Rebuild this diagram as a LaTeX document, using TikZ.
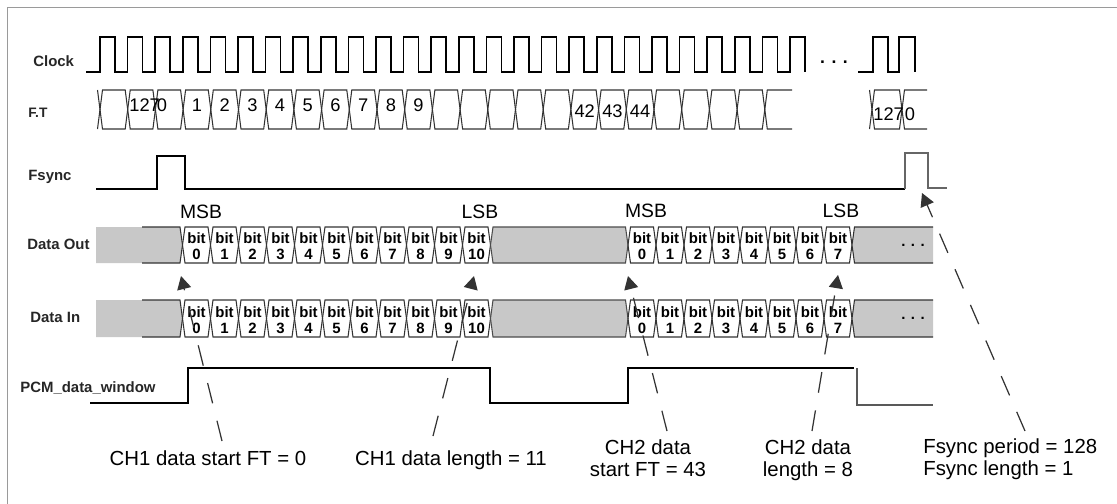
\documentclass[tikz,border=0pt]{standalone}
\usepackage{fontspec}
\setmainfont{Liberation Sans}
\usetikzlibrary{arrows.meta}
\definecolor{busgray}{HTML}{C8C8C8}
\definecolor{framegray}{HTML}{9A9A9A}
\begin{document}
\begin{tikzpicture}[x=0.02cm,y=-0.02cm,
  lbl/.style={font=\fontsize{8.5}{10}\selectfont\bfseries, anchor=base west, inner sep=0pt, text=black!85},
  ftlbl/.style={font=\fontsize{7.8}{9}\selectfont\bfseries, anchor=base west, inner sep=0pt, text=black!85},
  ftnum/.style={font=\fontsize{10.4}{12}\selectfont, inner sep=0pt, anchor=base},
  bittxt/.style={font=\fontsize{8.5}{9.2}\selectfont\bfseries, align=center, inner sep=0pt},
  sb/.style={font=\fontsize{11}{13}\selectfont, anchor=base, inner sep=0pt},
  note/.style={font=\fontsize{11.6}{13}\selectfont, inner sep=0pt},
  wave/.style={line width=0.85pt, line join=miter},
  sig/.style={line width=0.7pt},
  bus/.style={line width=0.6pt, draw=black!80},
  conn/.style={draw=black!80, line width=0.7pt, dash pattern=on 11.9pt off 10.2pt, -{Triangle[length=7.5pt,width=8pt]}},
]
\useasboundingbox (0,0) rectangle (1117,504);
\draw[framegray, line width=0.85pt] (7.5,504) -- (7.5,7.5) -- (1117,7.5);

% left labels
\node[lbl] (lclk) at (33,66) {Clock};
\node[ftlbl] (lft) at (28,117) {F.T};
\node[lbl] (lfs) at (28,180) {Fsync};
\node[lbl] (ldo) at (27,249) {Data Out};
\node[lbl] (ldi) at (30,322) {Data In};
\node[lbl] (lpcm) at (20,392) {PCM\_data\_window};

% clock
\draw[wave] (86,72) \foreach \k in {0,...,25} { -- ({100+27.6*\k},72) -- ({100+27.6*\k},37) -- ({115+27.6*\k},37) -- ({115+27.6*\k},72) };
\draw[wave] (858,72) -- (873,72) -- (873,37) -- (888,37) -- (888,72) -- (899,72) -- (899,37) -- (915,37) -- (915,72);
\node[font=\fontsize{10}{12}\selectfont\bfseries, inner sep=0pt] (cdots) at (834,62) {. . .};

% F.T row
\draw[bus] (97.5,90) -- (100,109.5) -- (97.5,129);
\foreach \k in {0,...,23} {
  \draw[bus] ({100+27.7*\k},109.5) -- ({102.5+27.7*\k},90) -- ({125.2+27.7*\k},90) -- ({127.7+27.7*\k},109.5) -- ({125.2+27.7*\k},129) -- ({102.5+27.7*\k},129) -- cycle;
}
\draw[bus] (792,90) -- (767.3,90) -- (764.8,109.5) -- (767.3,129) -- (792,129);
\draw[bus] (869.5,90) -- (872,109.5) -- (869.5,129);
\draw[bus] (872,109.5) -- (874.5,90) -- (899.5,90) -- (902,109.5) -- (899.5,129) -- (874.5,129) -- cycle;
\draw[bus] (927,90) -- (904.5,90) -- (902,109.5) -- (904.5,129) -- (927,129);

\node[ftnum, anchor=base west] (ft127) at (129,111) {127};
\node[ftnum] (ft0) at (162,111) {0};
\foreach \k/\n in {3/1,4/2,5/3,6/4,7/5,8/6,9/7,10/8,11/9} {
  \node[ftnum] (ft\n) at ({100+27.7*(\k+0.5)},111) {\n};
}
\foreach \k/\n in {17/42,18/43,19/44} {
  \node[ftnum] (ft\n) at ({100+27.7*(\k+0.5)},117) {\n};
}
\node[ftnum, anchor=base west] (ftb127) at (873,120) {127};
\node[ftnum] (ftb0) at (910,120) {0};

% Fsync
\draw[sig] (96,189) -- (157,189) -- (157,156) -- (185,156) -- (185,189) -- (905,189);
\draw[sig, black!60] (905,189) -- (905,153) -- (928,153) -- (928,188) -- (947,188);

% MSB / LSB
\node[sb] (msb1) at (201,218) {MSB};
\node[sb] (lsb1) at (480,218) {LSB};
\node[sb] (msb2) at (646,217) {MSB};
\node[sb] (lsb2) at (841,217) {LSB};

% data rows
\foreach \T/\B/\r in {227/263/o,300/337/i} {
  \pgfmathsetmacro\M{(\T+\B)/2}
  \fill[busgray] (96,\T) -- (180,\T) -- (182.5,\M) -- (180,\B) -- (96,\B) -- cycle;
  \draw[bus] (142,\T) -- (180,\T) -- (182.5,\M) -- (180,\B) -- (142,\B);
  \foreach \k in {0,...,10} {
    \pgfmathsetmacro\a{182.5+28*\k}
    \draw[bus] (\a,\M) -- (\a+2.5,\T) -- (\a+25.5,\T) -- (\a+28,\M) -- (\a+25.5,\B) -- (\a+2.5,\B) -- cycle;
    \node[bittxt] (b\r-\k) at (\a+14,\M+1.5) {bit\\\k};
  }
  \filldraw[fill=busgray, draw=black!70, line width=0.6pt] (490.5,\M) -- (493,\T) -- (625.5,\T) -- (628,\M) -- (625.5,\B) -- (493,\B) -- cycle;
  \foreach \k in {0,...,7} {
    \pgfmathsetmacro\a{628+28*\k}
    \draw[bus] (\a,\M) -- (\a+2.5,\T) -- (\a+25.5,\T) -- (\a+28,\M) -- (\a+25.5,\B) -- (\a+2.5,\B) -- cycle;
    \node[bittxt] (c\r-\k) at (\a+14,\M+1.5) {bit\\\k};
  }
  \fill[busgray] (852,\M) -- (854.5,\T) -- (933,\T) -- (933,\B) -- (854.5,\B) -- cycle;
  \draw[bus] (933,\T) -- (854.5,\T) -- (852,\M) -- (854.5,\B) -- (933,\B);
  \node[font=\fontsize{8.5}{10}\selectfont\bfseries, inner sep=0pt] (dots\r) at (913,\M) {. . .};
}

% PCM data window
\draw[sig] (90,403) -- (188,403) -- (188,368) -- (490,368) -- (490,403) -- (628,403) -- (628,368) -- (854,368);
\draw[sig, black!65] (857,368) -- (857,405) -- (933,405);

% bottom notes
\node[note, anchor=base] (n1) at (208,465) {CH1 data start FT = 0};
\node[note, anchor=base] (n2) at (451,465) {CH1 data length = 11};
\node[note, anchor=north, align=center] (n3) at (648,439) {CH2 data\\start FT = 43};
\node[note, anchor=north, align=center] (n4) at (808,439) {CH2 data\\length = 8};
\node[note, anchor=north west, align=left] (n5) at (923,438) {Fsync period = 128\\Fsync length = 1};

% connectors
\coordinate (t1) at (181,276); \coordinate (s1) at (222,441);
\coordinate (t2) at (474,276); \coordinate (s2) at (433,436);
\coordinate (t3) at (628,276); \coordinate (s3) at (667,431);
\coordinate (t4) at (838,275); \coordinate (s4) at (812,431);
\coordinate (t5) at (922,193); \coordinate (s5) at (1025,431);
\draw[conn] (s1) -- (t1);
\draw[conn] (s2) -- (t2);
\draw[conn] (s3) -- (t3);
\draw[conn] (s4) -- (t4);
\draw[conn] (s5) -- (t5);
\end{tikzpicture}
\end{document}
